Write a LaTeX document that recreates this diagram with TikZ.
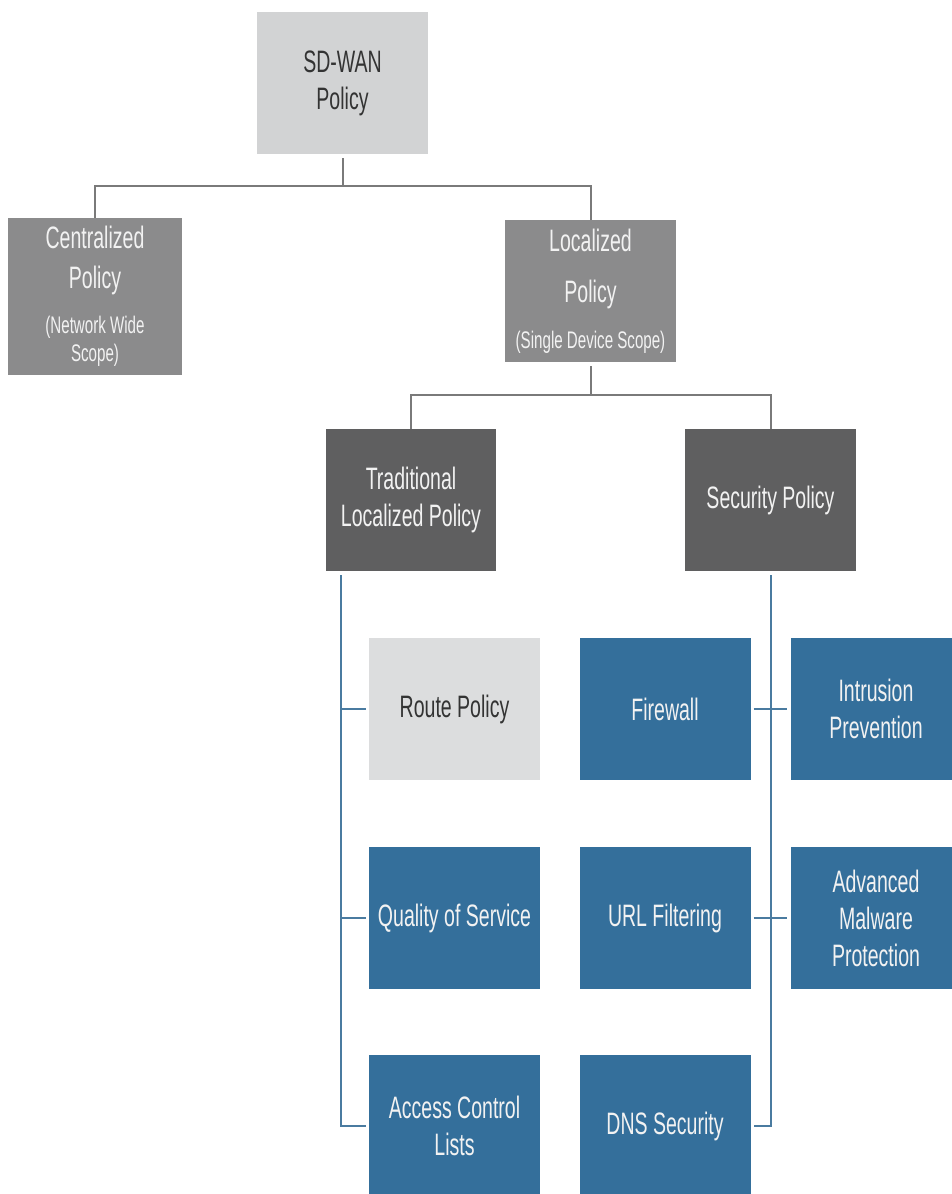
\documentclass[tikz,border=0pt]{standalone}
\usepackage{fontspec}
\setmainfont{Liberation Sans}[FakeStretch=0.63]
\usepackage{tikz}
\usetikzlibrary{positioning}
\definecolor{rootGrey}{HTML}{D2D3D4}
\definecolor{midGrey}{HTML}{8B8B8C}
\definecolor{darkGrey}{HTML}{5F5F60}
\definecolor{paleGrey}{HTML}{DCDDDE}
\definecolor{ciscoBlue}{HTML}{346F9B}
\definecolor{lineGrey}{HTML}{7A7A7A}
\definecolor{lineBlue}{HTML}{4A7BA0}
\newcommand{\subtxt}{\fontsize{24}{28}\selectfont}
\tikzset{
    box_root/.style={
        rectangle, fill=rootGrey, text=black!80, inner sep=0pt,
        minimum width=171pt, minimum height=142pt,
        align=center, font=\fontsize{31}{37}\selectfont
    },
    box_mid/.style={
        rectangle, fill=midGrey, text=white!95!black, inner sep=0pt,
        minimum width=171pt, minimum height=142pt,
        align=center, font=\fontsize{31}{37}\selectfont
    },
    box_dark/.style={
        rectangle, fill=darkGrey, text=white!95!black, inner sep=0pt,
        minimum width=171pt, minimum height=142pt,
        align=center, font=\fontsize{31}{37}\selectfont
    },
    box_pale/.style={
        rectangle, fill=paleGrey, text=black!80, inner sep=0pt,
        minimum width=171pt, minimum height=142pt,
        align=center, font=\fontsize{31}{37}\selectfont
    },
    box_blue/.style={
        rectangle, fill=ciscoBlue, text=white!95!black, inner sep=0pt,
        minimum width=171pt, minimum height=142pt,
        align=center, font=\fontsize{31}{37}\selectfont
    },
    tree_line/.style={draw=lineGrey, line width=2pt},
    leaf_line/.style={draw=lineBlue, line width=2pt}
}
\begin{document}
\begin{tikzpicture}[x=1pt, y=-1pt]
    \clip (0,0) rectangle (952,1194);
    \fill[white] (0,0) rectangle (952,1194);

    % Top level
    \node[box_root] (sdwan) at (342.5, 83) {SD-WAN\\Policy};

    % Second level (Centralized & Localized)
    \node[box_mid, minimum width=174pt, minimum height=157pt] (central) at (95, 296.5)
        {Centralized\\[3pt]Policy\\[8pt]{\subtxt(Network Wide}\\[-9pt]{\subtxt Scope)}};
    \node[box_mid] (local) at (590.5, 291)
        {Localized\\[14pt]Policy\\[9pt]{\subtxt(Single Device Scope)}};

    % Third level (Traditional & Security)
    \node[box_dark, minimum width=170pt] (trad) at (411, 500) {Traditional\\Localized Policy};
    \node[box_dark] (secpol) at (770.5, 500) {Security Policy};

    % Traditional localized policy leaves
    \node[box_pale] (route) at (454.5, 709) {Route Policy};
    \node[box_blue] (qos) at (454.5, 918) {Quality of Service};
    \node[box_blue] (acl) at (454.5, 1126) {Access Control\\Lists};

    % Security policy leaves
    \node[box_blue] (fw) at (665, 709) {Firewall};
    \node[box_blue] (url) at (665, 918) {URL Filtering};
    \node[box_blue] (dns) at (665, 1126) {DNS Security};
    \node[box_blue] (ips) at (876, 709) {Intrusion\\Prevention};
    \node[box_blue] (amp) at (876, 918) {Advanced\\Malware\\Protection};

    % Grey tree connectors
    \draw[tree_line, shorten <=4pt] (sdwan.south) -- ++(0,32) -| (central.north);
    \draw[tree_line, shorten <=4pt] (sdwan.south) -- ++(0,32) -| (local.north);
    \draw[tree_line, shorten <=4pt] (local.south) -- ++(0,33) -| (trad.north);
    \draw[tree_line, shorten <=4pt] (local.south) -- ++(0,33) -| (secpol.north);

    % Blue trunk of Traditional Localized Policy
    \coordinate (tradtrunk) at ([xshift=15pt, yshift=-4pt]trad.south west);
    \draw[leaf_line] (tradtrunk) |- ([xshift=-3pt]acl.west);
    \draw[leaf_line] ([xshift=-3pt]route.west) -- (route.west -| tradtrunk);
    \draw[leaf_line] ([xshift=-3pt]qos.west) -- (qos.west -| tradtrunk);

    % Blue trunk of Security Policy
    \draw[leaf_line] ([yshift=-4pt]secpol.south) |- ([xshift=3pt]dns.east);
    \draw[leaf_line] ([xshift=3pt]fw.east) -- ([xshift=-3pt]ips.west);
    \draw[leaf_line] ([xshift=3pt]url.east) -- ([xshift=-3pt]amp.west);
\end{tikzpicture}
\end{document}
